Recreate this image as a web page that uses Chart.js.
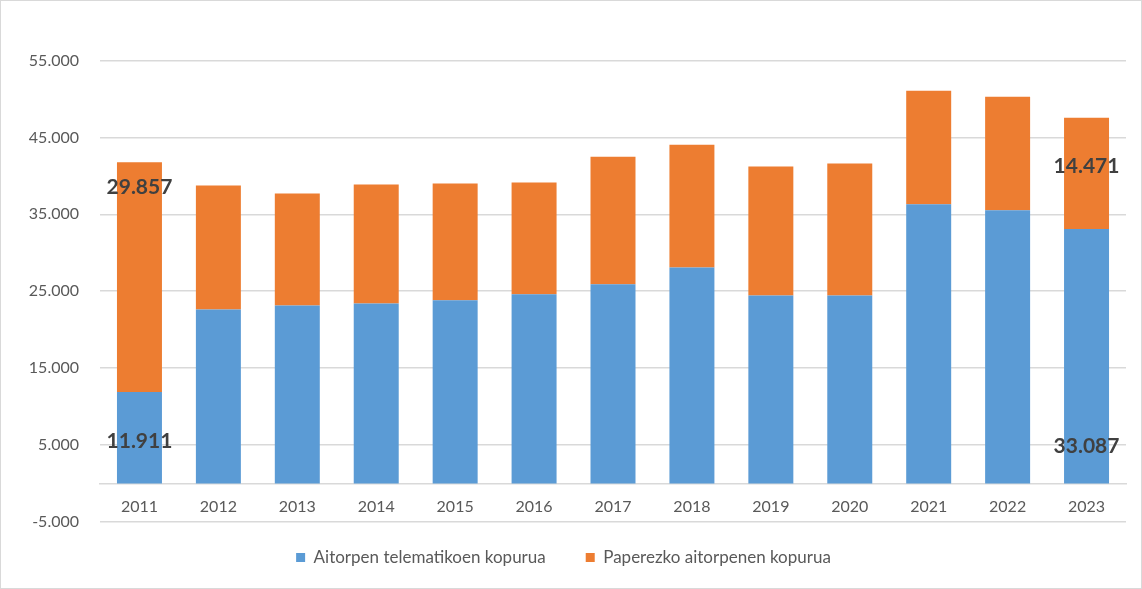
<!DOCTYPE html>
<html>
<head>
<meta charset="utf-8">
<script src="https://cdn.jsdelivr.net/npm/chart.js@4.4.1/dist/chart.umd.min.js"></script>
<style>
  html, body { margin: 0; padding: 0; background: #fff; }
  #box { width: 1142px; height: 589px; box-sizing: border-box; border: 1px solid #d9d9d9; }
  #box canvas { display: block; }
</style>
</head>
<body>
<div id="box"><canvas id="chart-area" width="1140" height="587"></canvas></div>
<script>
var years = ['2011','2012','2013','2014','2015','2016','2017','2018','2019','2020','2021','2022','2023'];
var telematic = [11911, 22620, 23140, 23400, 23840, 24610, 25910, 28080, 24440, 24440, 36300, 35520, 33087];
var paper = [29857, 16110, 14550, 15460, 15150, 14510, 16580, 15970, 16760, 17150, 14770, 14770, 14471];
var yTicks = [-5000, 5000, 15000, 25000, 35000, 45000, 55000];
var seriesNames = ['Aitorpen telematikoen kopurua', 'Paperezko aitorpenen kopurua'];

function fmt(v) {
  var s = Math.abs(v).toString().replace(/\B(?=(\d{3})+(?!\d))/g, '.');
  return (v < 0 ? '-' : '') + s;
}

// labels only shown on first and last year, placed by hand like the original
var pointLabels = [
  {ds: 1, i: 0, at: 38470},
  {ds: 0, i: 0, at: 5480},
  {ds: 1, i: 12, at: 41200},
  {ds: 0, i: 12, at: 4830}
];

var labelPlugin = {
  id: 'handLabels',
  afterDatasetsDraw: function(chart) {
    var ctx = chart.ctx;
    var y = chart.scales.y;
    ctx.save();
    ctx.font = 'bold 21px Lato';
    ctx.fillStyle = '#404040';
    ctx.textAlign = 'center';
    ctx.textBaseline = 'middle';
    pointLabels.forEach(function(p) {
      var bar = chart.getDatasetMeta(p.ds).data[p.i];
      var val = chart.data.datasets[p.ds].data[p.i];
      ctx.fillText(fmt(val), bar.x, y.getPixelForValue(p.at));
    });
    ctx.restore();
  }
};

// wide gap between legend items, but keep the row close to the axis
var legendLift = {
  id: 'legendLift',
  afterLayout: function(chart) {
    chart.legend.top -= 13;
    chart.legend.bottom -= 13;
  }
};

var config = {
  type: 'bar',
  data: {
    labels: years,
    datasets: [{
      label: seriesNames[0],
      data: telematic,
      backgroundColor: '#5B9BD5'
    }, {
      label: seriesNames[1],
      data: paper,
      backgroundColor: '#ED7D31'
    }]
  },
  options: {
    responsive: false,
    animation: false,
    layout: { padding: { left: 0, right: 15, top: 21, bottom: -1 } },
    datasets: { bar: { barPercentage: 0.57, categoryPercentage: 1 } },
    plugins: {
      tooltip: { enabled: false },
      legend: {
        position: 'bottom',
        labels: {
          boxWidth: 9,
          boxHeight: 9,
          padding: 40,
          color: '#595959',
          font: { family: 'Lato', size: 17 }
        }
      }
    },
    scales: {
      x: {
        stacked: true,
        position: { y: 0 },
        afterFit: function(axis) { axis.height = 0; },
        grid: { display: false, drawTicks: false },
        border: { color: '#d9d9d9', width: 1.5 },
        ticks: { color: '#595959', padding: 14, font: { family: 'Lato', size: 16 } }
      },
      y: {
        stacked: true,
        min: -5000,
        max: 60000,
        afterBuildTicks: function(axis) {
          axis.ticks = yTicks.map(function(v) { return {value: v}; });
        },
        afterFit: function(axis) { axis.width = 99; },
        grid: { color: '#d9d9d9', lineWidth: 1.5, drawTicks: true, tickLength: 21, tickColor: 'rgba(0,0,0,0)' },
        border: { display: false },
        ticks: {
          color: '#595959',
          padding: 0,
          font: { family: 'Lato', size: 16 },
          callback: function(v) { return fmt(v); }
        }
      }
    }
  },
  plugins: [labelPlugin, legendLift]
};

window.onload = function() {
  var ctx = document.getElementById('chart-area').getContext('2d');
  window.myBars = new Chart(ctx, config);
};
</script>
</body>
</html>
